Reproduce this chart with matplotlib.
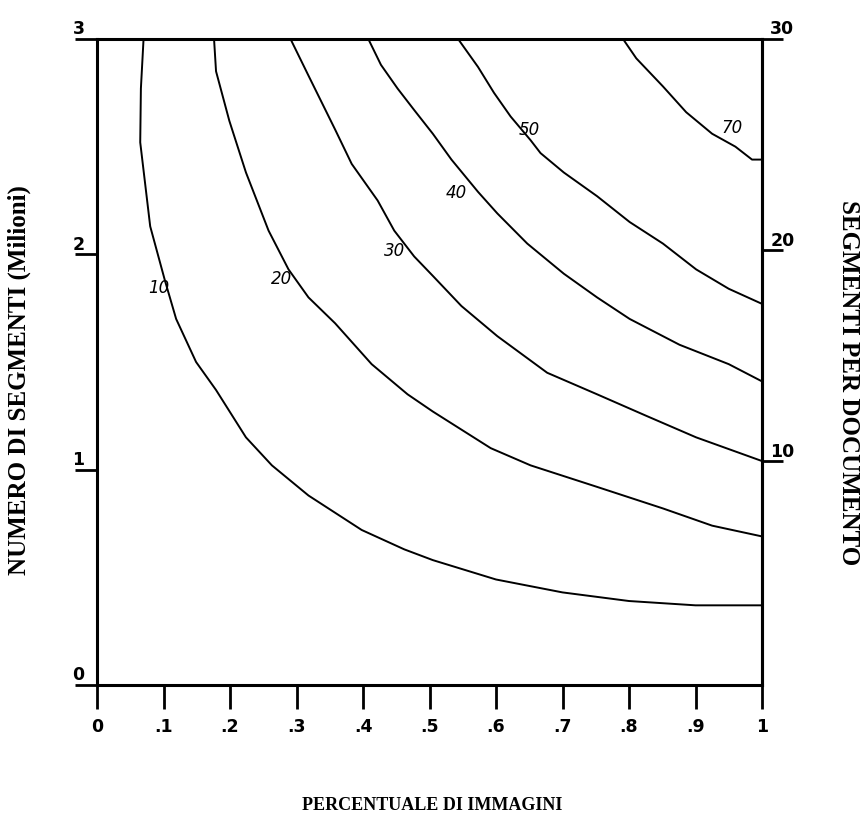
import matplotlib
matplotlib.use('Agg')
import matplotlib.pyplot as plt
from matplotlib.transforms import ScaledTranslation

# curves (x = share of images, y = millions of segments)
x10 = [0.070, 0.066, 0.065, 0.080, 0.102, 0.119, 0.149, 0.179, 0.224, 0.263, 0.318, 0.398, 0.462, 0.505, 0.60, 0.70, 0.80, 0.90, 1.0]
y10 = [3.00, 2.77, 2.52, 2.13, 1.88, 1.70, 1.50, 1.37, 1.15, 1.02, 0.88, 0.72, 0.63, 0.58, 0.49, 0.43, 0.39, 0.37, 0.37]

x20 = [0.176, 0.179, 0.199, 0.224, 0.258, 0.288, 0.318, 0.358, 0.413, 0.467, 0.505, 0.592, 0.652, 0.752, 0.851, 0.925, 1.0]
y20 = [3.00, 2.85, 2.62, 2.38, 2.11, 1.93, 1.80, 1.68, 1.49, 1.35, 1.27, 1.10, 1.02, 0.92, 0.82, 0.74, 0.69]

x30 = [0.291, 0.318, 0.358, 0.383, 0.422, 0.447, 0.477, 0.505, 0.548, 0.602, 0.677, 0.752, 0.826, 0.901, 1.0]
y30 = [3.00, 2.83, 2.58, 2.42, 2.25, 2.11, 1.99, 1.90, 1.76, 1.62, 1.45, 1.35, 1.25, 1.15, 1.04]

x40 = [0.408, 0.427, 0.452, 0.477, 0.505, 0.533, 0.573, 0.602, 0.647, 0.702, 0.752, 0.801, 0.876, 0.950, 1.0]
y40 = [3.00, 2.88, 2.77, 2.67, 2.56, 2.44, 2.29, 2.19, 2.05, 1.91, 1.80, 1.70, 1.58, 1.49, 1.41]

x50 = [0.543, 0.573, 0.597, 0.622, 0.652, 0.667, 0.702, 0.752, 0.801, 0.851, 0.901, 0.950, 1.0]
y50 = [3.00, 2.87, 2.75, 2.64, 2.53, 2.47, 2.38, 2.27, 2.15, 2.05, 1.93, 1.84, 1.77]

x70 = [0.791, 0.811, 0.851, 0.886, 0.925, 0.960, 0.985, 1.0]
y70 = [3.00, 2.91, 2.78, 2.66, 2.56, 2.50, 2.44, 2.44]

levels = ['10', '20', '30', '40', '50', '70']
label_x = [0.093, 0.277, 0.447, 0.540, 0.650, 0.955]
label_y = [1.85, 1.89, 2.02, 2.29, 2.58, 2.59]

xticks = [0, .1, .2, .3, .4, .5, .6, .7, .8, .9, 1]
xticklabels = ['0', '.1', '.2', '.3', '.4', '.5', '.6', '.7', '.8', '.9', '1']
yticks = [0, 1, 2, 3]
rticks = [10, 20, 30]

fig = plt.figure(figsize=(8.68, 8.2), dpi=100)
ax = fig.add_axes([97/868, 134/820, 665/868, 646/820])
ax.set_xlim(0, 1)
ax.set_ylim(0, 3)

for xs, ys in [(x10, y10), (x20, y20), (x30, y30), (x40, y40), (x50, y50), (x70, y70)]:
    ax.plot(xs, ys, color='black', lw=1.4, solid_joinstyle='round')

for lev, lx, ly in zip(levels, label_x, label_y):
    ax.text(lx, ly, lev, fontsize=12, style='italic', family='Liberation Sans Narrow',
            ha='center', va='center')

for s in ax.spines.values():
    s.set_linewidth(2.2)

ax.set_xticks(xticks)
ax.set_xticklabels(xticklabels)
ax.set_yticks(yticks)
ax.set_yticklabels([str(v) for v in yticks])
ax.tick_params(axis='x', direction='out', length=17, width=2, pad=6, labelsize=12.5)
ax.tick_params(axis='y', direction='out', length=16, width=2, pad=-7, labelsize=12.5)

up = ScaledTranslation(0, 9/72, fig.dpi_scale_trans)
for lab in ax.get_xticklabels():
    lab.set_fontweight('heavy')
for lab in ax.get_yticklabels():
    lab.set_fontweight('heavy')
    lab.set_transform(lab.get_transform() + up)

# right axis: segments per document
ax2 = ax.twinx()
ax2.set_ylim(-0.6, 30)
ax2.set_yticks(rticks)
ax2.set_yticklabels([str(v) for v in rticks])
ax2.tick_params(axis='y', direction='out', length=15, width=2, pad=-9, labelsize=12.5)
for name in ['left', 'top', 'bottom']:
    ax2.spines[name].set_visible(False)
ax2.spines['right'].set_linewidth(2.2)
for lab in ax2.get_yticklabels():
    lab.set_fontweight('heavy')
    lab.set_transform(lab.get_transform() + up)

fig.text(432/868, 1 - 806/820, 'PERCENTUALE DI IMMAGINI', family='Liberation Serif',
         fontweight='bold', fontsize=13, ha='center', va='center')
fig.text(19/868, 1 - 380/820, 'NUMERO DI SEGMENTI (Milioni)', family='Liberation Serif',
         fontweight='bold', fontsize=18, rotation=90, ha='center', va='center')
fig.text(848/868, 1 - 383/820, 'SEGMENTI PER DOCUMENTO', family='Liberation Serif',
         fontweight='bold', fontsize=18, rotation=270, ha='center', va='center')

fig.savefig('out.png', dpi=100)
